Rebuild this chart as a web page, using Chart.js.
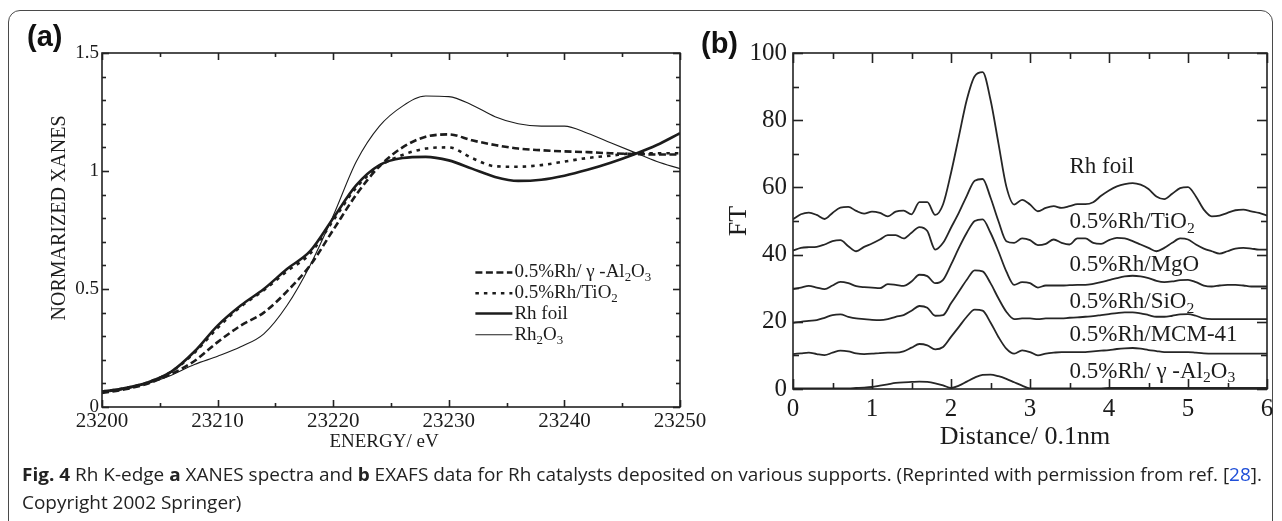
<!DOCTYPE html>
<html><head><meta charset="utf-8">
<script src="https://cdn.jsdelivr.net/npm/chart.js@4.4.1/dist/chart.umd.min.js"></script>
<style>
html,body{margin:0;padding:0;background:#fff;width:1282px;height:521px;overflow:hidden;position:relative;}
#frame{position:absolute;left:8px;top:10px;width:1265px;height:560px;border:1.5px solid #4a4a4a;border-radius:12px;box-sizing:border-box;}
canvas{position:absolute;top:0;}
#ca{left:0}
#cb{left:700px}
.pl{position:absolute;font-family:'Liberation Sans',Arial,sans-serif;font-weight:bold;font-size:29px;line-height:29px;color:#111;}
#cap{position:absolute;left:22px;top:460px;font-family:'Open Sans',sans-serif;font-size:18.5px;line-height:28px;color:#222;white-space:nowrap;transform-origin:0 0;}
#cap .ln{display:block}
#cap .ref{color:#1f4fd8}
</style></head>
<body>
<div id="frame"></div>
<canvas id="ca" width="720" height="470"></canvas>
<canvas id="cb" width="582" height="470"></canvas>
<div class="pl" style="left:27px;top:22px">(a)</div>
<div class="pl" style="left:701px;top:29px">(b)</div>
<div id="cap"><span class="ln" id="cap1"><b>Fig. 4</b> Rh K-edge <b>a</b> XANES spectra and <b>b</b> EXAFS data for Rh catalysts deposited on various supports. (Reprinted with permission from ref. [<span class="ref">28</span>].</span><span class="ln">Copyright 2002 Springer)</span></div>
<script>
// ---------- Panel (a): XANES ----------
const energy = [23200,23202,23204,23206,23208,23210,23212,23214,23216,23218,23220,23222,23224,23226,23228,23230,23232,23234,23236,23238,23240,23242,23244,23246,23248,23250];
const xanesAl2O3 = [0.06,0.075,0.10,0.14,0.195,0.275,0.345,0.40,0.49,0.60,0.75,0.90,1.02,1.10,1.145,1.155,1.13,1.11,1.095,1.088,1.083,1.08,1.075,1.072,1.07,1.07];
const xanesTiO2 = [0.065,0.08,0.105,0.15,0.23,0.335,0.425,0.495,0.575,0.65,0.79,0.93,1.02,1.068,1.095,1.10,1.055,1.02,1.018,1.025,1.04,1.055,1.065,1.075,1.075,1.075];
const xanesRhFoil = [0.065,0.08,0.105,0.15,0.235,0.345,0.43,0.50,0.585,0.66,0.80,0.94,1.025,1.055,1.06,1.045,1.01,0.975,0.958,0.963,0.98,1.005,1.035,1.07,1.11,1.16];
const xanesRh2O3 = [0.06,0.075,0.10,0.135,0.18,0.215,0.255,0.31,0.43,0.60,0.81,1.04,1.19,1.275,1.318,1.315,1.28,1.23,1.20,1.19,1.19,1.16,1.12,1.08,1.04,1.01];
const xTicksA = [23200,23210,23220,23230,23240,23250];
const yTicksA = [0,0.5,1,1.5];

// ---------- Panel (b): EXAFS ----------
const distance = [0,0.1,0.2,0.3,0.4,0.5,0.6,0.7,0.8,0.9,1,1.1,1.2,1.3,1.4,1.5,1.6,1.7,1.8,1.9,2,2.1,2.2,2.3,2.4,2.5,2.6,2.7,2.8,2.9,3,3.1,3.2,3.3,3.4,3.5,3.6,3.7,3.8,3.9,4,4.1,4.2,4.3,4.4,4.5,4.6,4.7,4.8,4.9,5,5.1,5.2,5.3,5.4,5.5,5.6,5.7,5.8,5.9,6];
const ftRhFoil = [50.5,52.0,52.5,51.8,50.6,52.4,54.0,54.2,53.0,52.2,52.8,52.4,51.4,52.8,53.1,52.0,55.6,55.6,51.8,55.0,64.3,75.2,86.1,93.1,94.3,86.1,73.2,60.3,54.9,56.3,54.9,52.9,53.9,54.4,53.9,54.4,55.0,55.0,55.6,57.5,59.1,60.3,61.0,61.3,60.8,59.5,57.3,56.5,58.1,59.8,60.1,57.3,53.4,51.4,51.6,52.4,53.2,53.4,52.9,52.4,51.6];
const ftTiO2 = [41.2,42.0,42.2,42.3,43.0,44.0,44.3,42.5,41.0,42.3,43.3,44.5,45.8,45.8,44.8,46.5,48.2,47.0,41.5,43.5,48.0,52.5,57.5,62.0,62.5,57.0,50.0,44.0,43.5,44.8,44.3,42.8,43.2,44.5,43.5,43.0,44.8,44.8,43.5,43.2,44.3,45.0,44.8,44.0,43.0,42.0,41.0,42.0,43.5,44.8,44.5,43.0,41.8,41.0,40.3,41.0,41.8,42.0,41.8,41.5,41.5];
const ftMgO = [29.7,30.2,30.7,30.2,29.7,30.8,31.9,31.5,30.6,30.3,30.2,30.0,31.2,31.0,30.7,32.0,34.0,33.6,31.5,32.5,37.0,42.0,46.5,50.0,50.5,46.5,41.0,35.0,31.0,31.8,31.5,30.2,30.8,30.8,30.8,30.9,31.0,31.0,31.3,31.8,32.4,33.0,33.5,33.7,33.5,33.0,32.2,31.8,32.0,32.4,32.5,31.8,30.8,30.5,30.8,31.0,31.0,30.8,30.5,30.5,30.5];
const ftSiO2 = [19.7,20.0,20.3,20.5,21.2,22.0,22.2,21.5,21.0,20.8,20.6,20.5,20.8,21.5,22.0,23.3,24.7,24.2,21.8,22.0,25.5,29.0,32.5,35.3,35.0,31.5,27.0,23.0,20.8,21.0,21.0,20.8,21.0,21.0,21.0,21.2,21.3,21.5,21.7,22.0,22.3,22.6,22.8,22.8,22.5,22.0,21.5,21.5,21.8,22.2,22.3,21.8,21.0,20.8,20.8,20.8,20.8,20.8,20.8,20.8,20.8];
const ftMCM41 = [10.4,10.6,10.8,10.4,10.1,10.8,11.4,11.2,10.6,10.4,10.5,10.7,10.8,10.8,11.2,12.3,13.4,13.0,11.8,12.5,15.5,18.5,21.5,23.6,23.3,19.8,15.5,12.0,10.5,11.5,11.0,10.0,10.5,10.8,11.0,11.0,11.0,11.0,11.2,11.4,11.6,11.9,12.1,12.2,12.0,11.6,11.3,11.0,11.0,11.0,11.0,10.8,10.6,10.5,10.5,10.5,10.5,10.5,10.5,10.5,10.5];
const ftAl2O3 = [0.2,0.2,0.2,0.2,0.2,0.2,0.2,0.2,0.3,0.4,0.6,1.0,1.4,1.8,2.0,2.1,2.2,2.1,1.7,1.1,0.3,1.0,2.2,3.4,4.2,4.3,3.8,3.0,2.0,1.0,0.2,0.2,0.2,0.2,0.2,0.2,0.2,0.2,0.2,0.2,0.3,0.3,0.3,0.3,0.3,0.3,0.3,0.3,0.3,0.3,0.3,0.3,0.3,0.3,0.3,0.3,0.3,0.3,0.3,0.3,0.3];
const xTicksB = [0,1,2,3,4,5,6];
const yTicksB = [0,20,40,60,80,100];

const SERIF = "'Liberation Serif','Times New Roman',serif";
const INK = '#1c1c1c';

function pts(xs, ys){ return xs.map((x,i)=>({x:x, y:ys[i]})); }
function minorBetween(major){ const r=[]; for(let i=0;i<major.length-1;i++){ r.push((major[i]+major[i+1])/2); } return r; }

function richText(ctx, x, y, runs, size){
  let cx = x;
  runs.forEach(([t, sub])=>{
    const s = sub ? size*0.68 : size;
    ctx.font = s + 'px ' + SERIF;
    ctx.fillText(t, cx, sub ? y + size*0.28 : y);
    cx += ctx.measureText(t).width;
  });
}

// frame + inward ticks on all four sides
function framePlugin(cfg){
  return {
    id:'frame_'+cfg.name,
    afterDatasetsDraw(chart){
      const ctx = chart.ctx, a = chart.chartArea, x = chart.scales.x, y = chart.scales.y;
      ctx.save();
      ctx.setLineDash([]);
      ctx.strokeStyle = '#222'; ctx.lineWidth = 1.6;
      ctx.strokeRect(a.left, a.top, a.right-a.left, a.bottom-a.top);
      const seg=(x1,y1,x2,y2)=>{ctx.beginPath();ctx.moveTo(x1,y1);ctx.lineTo(x2,y2);ctx.stroke();};
      const xt=(vals,len)=>{ for(const v of vals){ const p=Math.round(x.getPixelForValue(v))+0.5; seg(p,a.bottom,p,a.bottom-len); seg(p,a.top,p,a.top+len);} };
      const yt=(vals,len)=>{ for(const v of vals){ const p=Math.round(y.getPixelForValue(v))+0.5; seg(a.left,p,a.left+len,p); seg(a.right,p,a.right-len,p);} };
      xt(cfg.xMajor,cfg.major); xt(cfg.xMinor,cfg.minor);
      yt(cfg.yMajor,cfg.major); yt(cfg.yMinor,cfg.minor);
      ctx.restore();
    },
    afterDraw(chart){ cfg.extra(chart); }
  };
}

function baseScales(xMin,xMax,yMin,yMax,xt,yt,xFont,yFont,yW,xPad,yPad){
  return {
    x:{type:'linear',min:xMin,max:xMax,
       afterBuildTicks:s=>{s.ticks=xt.map(v=>({value:v}));},
       afterFit:s=>{s.height=40;},
       grid:{display:false,drawTicks:false},border:{display:false},
       ticks:{autoSkip:false,maxRotation:0,padding:xPad,color:INK,font:{family:SERIF,size:xFont},callback:v=>String(v)}},
    y:{type:'linear',min:yMin,max:yMax,
       afterBuildTicks:s=>{s.ticks=yt.map(v=>({value:v}));},
       afterFit:s=>{s.width=yW;},
       grid:{display:false,drawTicks:false},border:{display:false},
       ticks:{autoSkip:false,padding:yPad,color:INK,font:{family:SERIF,size:yFont},callback:v=>String(v)}}
  };
}

// ----- chart A -----
const minorA_y = []; for(let i=1;i<15;i++){ if(i%5) minorA_y.push(i/10); }
const dsA = [
  {label:'0.5%Rh/ γ -Al2O3',data:pts(energy,xanesAl2O3),borderColor:INK,borderWidth:2.6,borderDash:[7,3.5]},
  {label:'0.5%Rh/TiO2',data:pts(energy,xanesTiO2),borderColor:INK,borderWidth:2.6,borderDash:[3.5,5]},
  {label:'Rh foil',data:pts(energy,xanesRhFoil),borderColor:INK,borderWidth:2.6},
  {label:'Rh2O3',data:pts(energy,xanesRh2O3),borderColor:INK,borderWidth:1.1}
];
new Chart(document.getElementById('ca'),{
  type:'line',
  data:{datasets:dsA},
  options:{
    responsive:false,animation:false,devicePixelRatio:1,
    layout:{padding:{left:0,top:53,right:40,bottom:23}},
    elements:{point:{radius:0},line:{cubicInterpolationMode:'monotone',fill:false}},
    scales:baseScales(23200,23250,0,1.5,xTicksA,yTicksA,21,19,102,2,3),
    plugins:{legend:{display:false},tooltip:{enabled:false}}
  },
  plugins:[framePlugin({name:'a',xMajor:xTicksA,xMinor:minorBetween(xTicksA),yMajor:yTicksA,yMinor:minorA_y,major:7,minor:4,
    extra:(chart)=>{
      const ctx=chart.ctx, a=chart.chartArea, x=chart.scales.x, y=chart.scales.y;
      ctx.save(); ctx.fillStyle=INK;
      ctx.font='19px '+SERIF; ctx.textAlign='center'; ctx.textBaseline='middle';
      ctx.fillText('ENERGY/ eV',(a.left+a.right)/2-7,a.bottom+35);
      ctx.translate(a.left-42,a.top+165); ctx.rotate(-Math.PI/2);
      ctx.font='20px '+SERIF;
      ctx.fillText('NORMARIZED XANES',0,0);
      ctx.restore();
      ctx.save(); ctx.fillStyle=INK; ctx.strokeStyle=INK; ctx.textBaseline='middle'; ctx.textAlign='left';
      const rows=[ [['0.5%Rh/ γ -Al',0],['2',1],['O',0],['3',1]], [['0.5%Rh/TiO',0],['2',1]], [['Rh foil',0]], [['Rh',0],['2',1],['O',0],['3',1]] ];
      const ly=[0.57,0.482,0.396,0.306];
      const x0=x.getPixelForValue(23232.3), x1=x.getPixelForValue(23235.5);
      rows.forEach((r,i)=>{
        const py=y.getPixelForValue(ly[i]);
        ctx.lineWidth=dsA[i].borderWidth; ctx.setLineDash(dsA[i].borderDash||[]);
        ctx.beginPath(); ctx.moveTo(x0,py); ctx.lineTo(x1,py); ctx.stroke();
        ctx.setLineDash([]);
        richText(ctx,x1+2,py,r,19);
      });
      ctx.restore();
    }})]
});

// ----- chart B -----
const minorB_y = [10,30,50,70,90];
const labelsB = [
  {y:66,  runs:[['Rh foil',0]]},
  {y:49.7,runs:[['0.5%Rh/TiO',0],['2',1]]},
  {y:36.9,runs:[['0.5%Rh/MgO',0]]},
  {y:25.9,runs:[['0.5%Rh/SiO',0],['2',1]]},
  {y:16.1,runs:[['0.5%Rh/MCM-41',0]]},
  {y:5.1, runs:[['0.5%Rh/ γ -Al',0],['2',1],['O',0],['3',1]]}
];
const lineB = {borderColor:'#262626',borderWidth:1.8};
new Chart(document.getElementById('cb'),{
  type:'line',
  data:{datasets:[
    Object.assign({label:'Rh foil',data:pts(distance,ftRhFoil)},lineB),
    Object.assign({label:'0.5%Rh/TiO2',data:pts(distance,ftTiO2)},lineB),
    Object.assign({label:'0.5%Rh/MgO',data:pts(distance,ftMgO)},lineB),
    Object.assign({label:'0.5%Rh/SiO2',data:pts(distance,ftSiO2)},lineB),
    Object.assign({label:'0.5%Rh/MCM-41',data:pts(distance,ftMCM41)},lineB),
    Object.assign({label:'0.5%Rh/ γ -Al2O3',data:pts(distance,ftAl2O3)},lineB)
  ]},
  options:{
    responsive:false,animation:false,devicePixelRatio:1,
    layout:{padding:{left:0,top:53,right:15,bottom:41}},
    elements:{point:{radius:0},line:{cubicInterpolationMode:'monotone',fill:false}},
    scales:baseScales(0,6,0,100,xTicksB,yTicksB,25,25,93,5,6),
    plugins:{legend:{display:false},tooltip:{enabled:false}}
  },
  plugins:[framePlugin({name:'b',xMajor:xTicksB,xMinor:minorBetween(xTicksB),yMajor:yTicksB,yMinor:minorB_y,major:10,minor:6,
    extra:(chart)=>{
      const ctx=chart.ctx, a=chart.chartArea, x=chart.scales.x, y=chart.scales.y;
      ctx.save(); ctx.fillStyle=INK;
      ctx.font='26px '+SERIF; ctx.textAlign='center'; ctx.textBaseline='middle';
      ctx.fillText('Distance/ 0.1nm',(a.left+a.right)/2-5,a.bottom+48);
      ctx.translate(a.left-54,(a.top+a.bottom)/2); ctx.rotate(-Math.PI/2);
      ctx.fillText('FT',0,0);
      ctx.restore();
      ctx.save(); ctx.fillStyle=INK; ctx.textAlign='left'; ctx.textBaseline='middle';
      const lx = x.getPixelForValue(3.5);
      labelsB.forEach(l=>richText(ctx,lx,y.getPixelForValue(l.y),l.runs,23));
      ctx.restore();
    }})]
});

// fit caption width
const cap = document.getElementById('cap');
const w = document.getElementById('cap1').getBoundingClientRect().width;
cap.style.transform = 'scaleX(' + (1240 / w) + ')';
</script>
</body></html>
